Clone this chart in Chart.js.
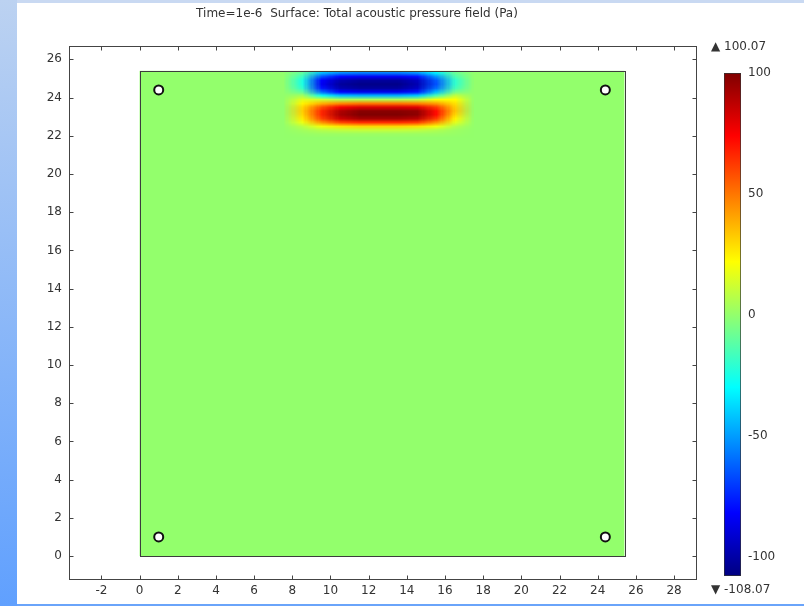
<!DOCTYPE html>
<html>
<head>
<meta charset="utf-8">
<script src="https://cdn.jsdelivr.net/npm/chart.js@4.4.1/dist/chart.umd.min.js"></script>
<style>
  html, body { margin: 0; padding: 0; background: #fff; }
  #page { position: relative; width: 804px; height: 606px; overflow: hidden; background: #fff; }
  #sideBar { position: absolute; left: 0; top: 0; width: 17px; height: 606px; background: linear-gradient(#bcd2f1, #60a0fe); }
  #topBar { position: absolute; left: 17px; top: 0; right: 0; height: 3px; background: #c9d9f2; }
  #bottomBar { position: absolute; left: 17px; bottom: 0; right: 0; height: 2px; background: #6aa4fa; }
  #plot { position: absolute; left: 0; top: 0; }
  #colorBar { position: absolute; left: 700px; top: 0; }
</style>
</head>
<body>
<div id="page">
  <div id="sideBar"></div>
  <div id="topBar"></div>
  <div id="bottomBar"></div>
  <canvas id="plot" width="804" height="606"></canvas>
  <canvas id="colorBar" width="104" height="606"></canvas>
</div>
<script>
// axes
const xTicks = [-2, 0, 2, 4, 6, 8, 10, 12, 14, 16, 18, 20, 22, 24, 26, 28];
const yTicks = [0, 2, 4, 6, 8, 10, 12, 14, 16, 18, 20, 22, 24, 26];
const xLimits = [-3.7, 29.15];
const yLimits = [-1.2, 26.7];

// square domain and the four receiver points
const domainSize = 25.4;
const receiverX = [1, 1, 24.4, 24.4];
const receiverY = [1, 24.4, 1, 24.4];

// pressure field (Pa) near the source, cell centres
const fieldCols = [7.5, 8.5, 9.5, 10.5, 11.5, 12.5, 13.5, 14.5, 15.5, 16.5, 17.5];
const fieldRows = [25.3, 25.1, 24.9, 24.7, 24.5, 24.3, 24.1, 23.9, 23.7, 23.5, 23.3, 23.1, 22.9, 22.7, 22.5, 22.3, 22.1, 21.9];
const fieldValues = [
  [0, -10, -42, -52, -55, -55, -55, -50, -32, -8, 0],
  [0, -18, -66, -82, -85, -85, -85, -80, -52, -14, 0],
  [0, -24, -82, -98, -102, -102, -102, -95, -64, -20, 0],
  [0, -24, -84, -102, -106, -106, -106, -98, -66, -20, 0],
  [0, -20, -78, -98, -102, -102, -102, -94, -60, -16, 0],
  [0, -10, -60, -82, -86, -86, -86, -78, -44, -6, 0],
  [0, 4, -26, -42, -45, -45, -45, -40, -14, 10, 0],
  [0, 16, 12, 5, 5, 5, 5, 8, 20, 22, 0],
  [0, 24, 38, 46, 50, 50, 50, 48, 42, 28, 0],
  [0, 30, 58, 76, 82, 82, 82, 80, 62, 32, 0],
  [0, 32, 66, 90, 98, 98, 98, 96, 72, 34, 0],
  [0, 30, 66, 92, 100, 100, 100, 97, 72, 30, 0],
  [0, 26, 60, 84, 92, 92, 92, 88, 62, 24, 0],
  [0, 18, 44, 60, 65, 65, 65, 62, 44, 16, 0],
  [0, 8, 20, 27, 30, 30, 30, 28, 20, 7, 0],
  [0, 3, 7, 9, 10, 10, 10, 9, 6, 2, 0],
  [0, 1, 2, 2, 2, 2, 2, 2, 2, 1, 0],
  [0, 0, 0, 0, 0, 0, 0, 0, 0, 0, 0]
];

// colour legend
const pMin = -108.07;
const pMax = 100.07;
const barTicks = [100, 50, 0, -50, -100];

const titleText = 'Time=1e-6  Surface: Total acoustic pressure field (Pa)';

const FONT = 'DejaVu Sans';
const INK = '#333';

// jet colour map over the legend range
function jet(v) {
  const t = (v - pMin) / (pMax - pMin);
  const c = k => Math.round(255 * Math.min(1, Math.max(0, 1.5 - Math.abs(4 * t - k))));
  return [c(3), c(2), c(1)];
}
const rgb = a => `rgb(${a[0]},${a[1]},${a[2]})`;

const fieldPlugin = {
  id: 'field',
  beforeDatasetsDraw(chart) {
    const { ctx, chartArea, scales: { x, y } } = chart;
    ctx.save();
    ctx.beginPath();
    ctx.rect(chartArea.left, chartArea.top, chartArea.width, chartArea.height);
    ctx.clip();

    const x0 = x.getPixelForValue(0), x1 = x.getPixelForValue(domainSize);
    const y0 = y.getPixelForValue(0), y1 = y.getPixelForValue(domainSize);
    ctx.fillStyle = rgb(jet(0));
    ctx.fillRect(x0, y1, x1 - x0, y0 - y1);

    // cells -> small image, scaled onto the axes
    const off = document.createElement('canvas');
    off.width = fieldCols.length;
    off.height = fieldRows.length;
    const octx = off.getContext('2d');
    const img = octx.createImageData(off.width, off.height);
    fieldValues.forEach((row, j) => row.forEach((v, i) => {
      const [r, g, b] = jet(v);
      const k = 4 * (j * off.width + i);
      img.data[k] = r; img.data[k + 1] = g; img.data[k + 2] = b; img.data[k + 3] = 255;
    }));
    octx.putImageData(img, 0, 0);
    const hx = (fieldCols[1] - fieldCols[0]) / 2;
    const hy = (fieldRows[0] - fieldRows[1]) / 2;
    const left = x.getPixelForValue(fieldCols[0] - hx);
    const right = x.getPixelForValue(fieldCols[fieldCols.length - 1] + hx);
    const top = y.getPixelForValue(fieldRows[0] + hy);
    const bottom = y.getPixelForValue(fieldRows[fieldRows.length - 1] - hy);
    ctx.imageSmoothingEnabled = true;
    ctx.drawImage(off, left, top, right - left, bottom - top);

    ctx.strokeStyle = '#3c3c3c';
    ctx.lineWidth = 1;
    ctx.strokeRect(Math.round(x0) + 0.5, Math.round(y1) + 0.5, Math.round(x1 - x0), Math.round(y0 - y1));
    ctx.restore();
  },
  afterDraw(chart) {
    // box frame with inward ticks on all four sides
    const { ctx, chartArea: a, scales: { x, y } } = chart;
    const L = Math.round(a.left) + 0.5, R = Math.round(a.right) + 0.5;
    const T = Math.round(a.top) + 0.5, B = Math.round(a.bottom) + 0.5;
    ctx.save();
    ctx.strokeStyle = '#444';
    ctx.lineWidth = 1;
    ctx.strokeRect(L, T, R - L, B - T);
    ctx.beginPath();
    xTicks.forEach(v => {
      const p = Math.round(x.getPixelForValue(v)) + 0.5;
      ctx.moveTo(p, B); ctx.lineTo(p, B - 4);
      ctx.moveTo(p, T); ctx.lineTo(p, T + 4);
    });
    yTicks.forEach(v => {
      const p = Math.round(y.getPixelForValue(v)) + 0.5;
      ctx.moveTo(L, p); ctx.lineTo(L + 4, p);
      ctx.moveTo(R, p); ctx.lineTo(R - 4, p);
    });
    ctx.stroke();
    ctx.restore();
  }
};

new Chart(document.getElementById('plot'), {
  type: 'scatter',
  data: {
    datasets: [{
      data: receiverX.map((v, i) => ({ x: v, y: receiverY[i] })),
      pointRadius: 4.5,
      pointBackgroundColor: '#fff',
      pointBorderColor: '#111',
      pointBorderWidth: 2
    }]
  },
  options: {
    responsive: false,
    animation: false,
    events: [],
    layout: { padding: { left: 18, top: 0, right: 108, bottom: 5 } },
    plugins: {
      legend: { display: false },
      tooltip: { enabled: false },
      title: {
        display: true,
        text: titleText,
        color: INK,
        font: { family: FONT, size: 12, weight: 'normal' },
        padding: { top: 7, bottom: 24.6 }
      }
    },
    scales: {
      x: {
        type: 'linear',
        min: xLimits[0],
        max: xLimits[1],
        grid: { display: false, drawTicks: false },
        border: { display: false },
        afterBuildTicks: s => { s.ticks = xTicks.map(v => ({ value: v })); },
        afterFit: s => { s.height = 22; },
        ticks: { color: INK, font: { family: FONT, size: 12 }, padding: 5, maxRotation: 0, autoSkip: false }
      },
      y: {
        type: 'linear',
        min: yLimits[0],
        max: yLimits[1],
        grid: { display: false, drawTicks: false },
        border: { display: false },
        afterBuildTicks: s => { s.ticks = yTicks.map(v => ({ value: v })); },
        afterFit: s => { s.width = 51; },
        ticks: { color: INK, font: { family: FONT, size: 12 }, padding: 7, autoSkip: false }
      }
    }
  },
  plugins: [fieldPlugin]
});

// colour legend bar
const barLabels = {
  id: 'barLabels',
  afterDraw(chart) {
    const { ctx, chartArea } = chart;
    ctx.save();
    ctx.font = `12px "${FONT}"`;
    ctx.fillStyle = INK;
    ctx.textBaseline = 'middle';
    ctx.fillText('\u25B2 ' + pMax.toFixed(2), 11, chartArea.top - 26);
    ctx.fillText('\u25BC ' + pMin.toFixed(2), 11, chartArea.bottom + 14);
    ctx.restore();
  }
};

new Chart(document.getElementById('colorBar'), {
  type: 'bar',
  data: {
    labels: [''],
    datasets: [{
      data: [[pMin, pMax]],
      backgroundColor: c => {
        const a = c.chart.chartArea;
        if (!a) return rgb(jet(0));
        const g = c.chart.ctx.createLinearGradient(0, a.bottom, 0, a.top);
        for (let i = 0; i <= 16; i++) {
          g.addColorStop(i / 16, rgb(jet(pMin + (pMax - pMin) * i / 16)));
        }
        return g;
      },
      borderColor: '#333',
      borderWidth: 1,
      borderSkipped: false,
      barPercentage: 1,
      categoryPercentage: 1
    }]
  },
  options: {
    responsive: false,
    animation: false,
    events: [],
    layout: { padding: { left: 24, top: 73, right: 0, bottom: 30 } },
    plugins: { legend: { display: false }, tooltip: { enabled: false } },
    scales: {
      x: { display: false },
      y: {
        position: 'right',
        min: pMin,
        max: pMax,
        grid: { display: false, drawTicks: false },
        border: { display: false },
        afterBuildTicks: s => { s.ticks = barTicks.map(v => ({ value: v })); },
        afterFit: s => { s.width = 63; },
        ticks: { color: INK, font: { family: FONT, size: 12 }, padding: 7 }
      }
    }
  },
  plugins: [barLabels]
});
</script>
</body>
</html>
